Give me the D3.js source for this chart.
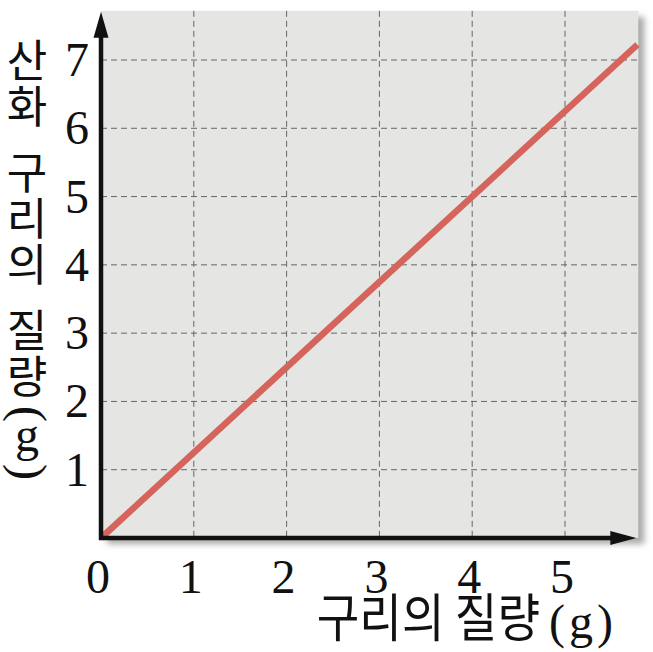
<!DOCTYPE html>
<html>
<head>
<meta charset="utf-8">
<script src="https://cdn.jsdelivr.net/npm/d3@7"></script>
<style>
  body { margin: 0; background: #fff; }
</style>
</head>
<body>
<div id="chart"></div>
<script>
// copper mass (g) vs copper oxide mass (g)
const copperMass = [0, 4, 5.78];
const oxideMass = [0, 5, 7.225];
const xTicks = [0, 1, 2, 3, 4, 5];
const yTicks = [1, 2, 3, 4, 5, 6, 7];
const yLabelChars = ["산", "화", " ", "구", "리", "의", " ", "질", "량", "(", "g", ")"];
const xLabelMain = "구리의 질량";
const xLabelUnit = "(g)";

const width = 653;
const height = 652;

const x = d3.scaleLinear().domain([0, 5]).range([101, 565]);
const y = d3.scaleLinear().domain([0, 7]).range([538, 60]);
const xMax = 5.79;
const yMax = 7.72;

const serif = "Liberation Serif";
const sans = "Noto Sans CJK KR";

const svg = d3.select("#chart")
  .append("svg")
  .attr("width", width)
  .attr("height", height);

svg.append("defs").append("filter")
  .attr("id", "blur")
  .attr("x", "-10%").attr("y", "-10%")
  .attr("width", "120%").attr("height", "120%")
  .append("feGaussianBlur")
  .attr("stdDeviation", 3);

// shadow + background
svg.append("rect")
  .attr("x", x(0) + 6)
  .attr("y", y(yMax) + 6)
  .attr("width", x(xMax) - x(0))
  .attr("height", y(0) - y(yMax))
  .attr("fill", "#a9aaa8")
  .attr("filter", "url(#blur)");

svg.append("rect")
  .attr("x", x(0))
  .attr("y", y(yMax))
  .attr("width", x(xMax) - x(0))
  .attr("height", y(0) - y(yMax))
  .attr("fill", "#e5e6e3");

// grid
const grid = svg.append("g")
  .attr("stroke", "#666")
  .attr("stroke-width", 1)
  .attr("stroke-dasharray", "6,4");

grid.selectAll(".gx")
  .data(xTicks.filter(d => d > 0))
  .join("line")
  .attr("x1", d => x(d)).attr("x2", d => x(d))
  .attr("y1", y(yMax)).attr("y2", y(0));

grid.selectAll(".gy")
  .data(yTicks)
  .join("line")
  .attr("y1", d => y(d)).attr("y2", d => y(d))
  .attr("x1", x(0)).attr("x2", x(xMax));

// data line
const line = d3.line()
  .x((d, i) => x(copperMass[i]))
  .y(d => y(d));

svg.append("path")
  .datum(oxideMass)
  .attr("d", line)
  .attr("fill", "none")
  .attr("stroke", "#d4645c")
  .attr("stroke-width", 6.5);

// axes with arrows
const axisG = svg.append("g");
axisG.append("line")
  .attr("x1", x(0)).attr("x2", x(0))
  .attr("y1", y(0) + 2).attr("y2", y(yMax) + 20)
  .attr("stroke", "#111").attr("stroke-width", 4.5);
axisG.append("line")
  .attr("x1", x(0) - 2).attr("x2", x(xMax) - 20)
  .attr("y1", y(0)).attr("y2", y(0))
  .attr("stroke", "#111").attr("stroke-width", 4.5);

const yTip = y(yMax) + 1;
axisG.append("path")
  .attr("d", `M${x(0)},${yTip} L${x(0) - 7.5},${yTip + 26} L${x(0) + 7.5},${yTip + 26} Z`)
  .attr("fill", "#111");
const xTip = x(xMax) - 2;
axisG.append("path")
  .attr("d", `M${xTip},${y(0)} L${xTip - 26},${y(0) - 7} L${xTip - 26},${y(0) + 7} Z`)
  .attr("fill", "#111");

// tick labels
svg.selectAll(".xt")
  .data(xTicks)
  .join("text")
  .attr("class", "xt")
  .attr("x", d => x(d) - 3)
  .attr("y", 593)
  .attr("text-anchor", "middle")
  .style("font-family", serif)
  .style("font-size", "48px")
  .style("fill", "#111")
  .text(d => d);

svg.selectAll(".yt")
  .data(yTicks)
  .join("text")
  .attr("class", "yt")
  .attr("x", 77)
  .attr("y", d => y(d) + 16)
  .attr("text-anchor", "middle")
  .style("font-family", serif)
  .style("font-size", "48px")
  .style("fill", "#111")
  .text(d => d);

// x axis title
svg.append("text")
  .attr("transform", "translate(540,637) scale(0.89,1)")
  .attr("text-anchor", "end")
  .style("font-family", sans)
  .style("font-size", "52px")
  .style("fill", "#111")
  .text(xLabelMain);
svg.append("text")
  .attr("x", 617)
  .attr("y", 638)
  .attr("text-anchor", "end")
  .style("font-family", serif)
  .style("font-size", "48px")
  .style("letter-spacing", "4px")
  .style("fill", "#111")
  .text(xLabelUnit);

// y axis title, stacked vertically
const halfSize = c => c === " " ? 10 : (c === "(" || c === ")") ? 13 : c === "g" ? 16 : 23;
let cy = 62;
const yPos = yLabelChars.map((c, i) => {
  if (i > 0) cy += halfSize(yLabelChars[i - 1]) + halfSize(c);
  return cy;
});
const isParen = c => c === "(" || c === ")";

const yChars = svg.selectAll(".yl")
  .data(yLabelChars.map((c, i) => ({ c, cy: yPos[i] })).filter(d => d.c !== " "))
  .join("g")
  .attr("class", "yl")
  .attr("transform", d => `translate(27,${d.cy})`);

yChars.append("text")
  .attr("transform", d => isParen(d.c) ? "rotate(90)" : null)
  .attr("text-anchor", "middle")
  .attr("dy", d => isParen(d.c) ? 14 : d.c === "g" ? 8 : 15)
  .style("font-family", d => (isParen(d.c) || d.c === "g") ? serif : sans)
  .style("font-size", d => (isParen(d.c) || d.c === "g") ? "48px" : "44px")
  .style("fill", "#111")
  .text(d => d.c);
</script>
</body>
</html>
